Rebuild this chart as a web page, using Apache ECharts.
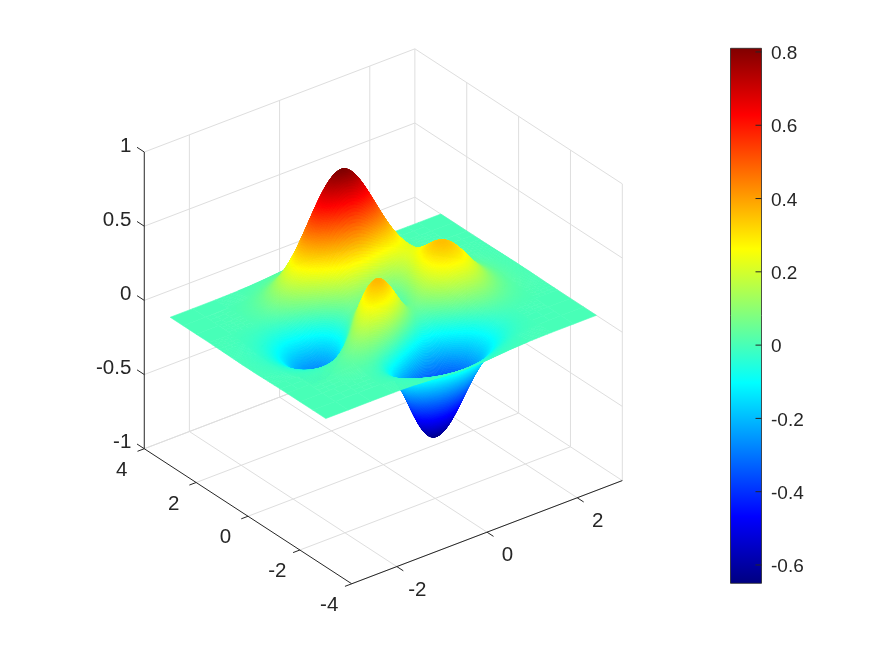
<!DOCTYPE html>
<html>
<head>
<meta charset="utf-8">
<style>html,body{margin:0;padding:0;background:#fff}#c{width:875px;height:656px}</style>
<script src="https://cdn.jsdelivr.net/npm/echarts@6/dist/echarts.min.js"></script>
</head>
<body>
<div id="c"></div>
<script>
// ---- values ----
const xValues = [-3,-2.5,-2,-1.5,-1,-0.5,0,0.5,1,1.5,2,2.5,3];
const yValues = [-3,-2.5,-2,-1.5,-1,-0.5,0,0.5,1,1.5,2,2.5,3];
// one row per y value (from y=-3 up to y=3), one column per x value
const zRows = [
 [0,0.0001,0.0003,0.0004,-0.0029,-0.0137,-0.0244,-0.0222,-0.011,-0.003,-0.0004,0,0],
 [0,0.0003,0.0015,0.0003,-0.0235,-0.0915,-0.1569,-0.1406,-0.0688,-0.0184,-0.0026,-0.0002,0],
 [-0.0001,0.0009,0.0047,0.0045,-0.0592,-0.2639,-0.476,-0.4345,-0.2102,-0.0529,-0.0062,-0.0001,0],
 [-0.0004,0.0005,0.0079,0.0327,0.0148,-0.2187,-0.568,-0.576,-0.2635,-0.0441,0.0043,0.0025,0.0002],
 [-0.0013,-0.0056,-0.013,0.03,0.1856,0.2225,-0.0724,-0.2223,-0.0273,0.0884,0.0499,0.0113,0.0011],
 [-0.0029,-0.02,-0.0798,-0.1213,0.0797,0.3551,0.2,0.039,0.2198,0.256,0.1122,0.0237,0.0025],
 [-0.0038,-0.0301,-0.1332,-0.2774,-0.1652,0.148,0.0981,0.0375,0.2937,0.327,0.1411,0.0297,0.0032],
 [-0.003,-0.0247,-0.1122,-0.2493,-0.1997,0.0389,0.0464,0.0375,0.2376,0.2558,0.1094,0.0229,0.0025],
 [-0.0013,-0.0112,-0.048,-0.0864,0.0229,0.2795,0.3689,0.2935,0.2434,0.1581,0.058,0.0114,0.0012],
 [-0.0003,-0.0019,-0.0012,0.0478,0.2608,0.6196,0.7997,0.625,0.3255,0.1185,0.0293,0.0046,0.0004],
 [0,0.0006,0.008,0.0553,0.2096,0.4556,0.586,0.4568,0.221,0.0677,0.0133,0.0017,0.0001],
 [0,0.0003,0.0032,0.0192,0.0688,0.1468,0.1885,0.1468,0.0699,0.0205,0.0037,0.0004,0],
 [0,0,0.0005,0.0031,0.011,0.0233,0.0299,0.0233,0.011,0.0032,0.0006,0.0001,0]
];
const xTicks = [-2,0,2];
const yTicks = [-4,-2,0,2,4];
const zTicks = [-1,-0.5,0,0.5,1];
const colorbarTicks = [-0.6,-0.4,-0.2,0,0.2,0.4,0.6,0.8];
const colorRange = [-0.65,0.81];
const xRange = [-3,3], yRange = [-4,4], zRange = [-1,1];
const jetStops = [[0,[0,0,128]],[0.125,[0,0,255]],[0.375,[0,255,255]],[0.625,[255,255,0]],[0.875,[255,0,0]],[1,[128,0,0]]];

// ---- styles and view ----
const ink = '#262626', gridInk = '#dedede', fontFamily = '"Liberation Sans", Arial, sans-serif';
const axisFontSize = 20.5, barFontSize = 19;
const view = {o:[383.3,316.3], ex:[45.1,-17.2], ey:[-25.93,-16.88], ez:148.35};
const SUB = 24;
const STRIDES = [24,12,8,6,4,3,2,1];

function project(x,y,z){
  return [view.o[0]+x*view.ex[0]+y*view.ey[0], view.o[1]+x*view.ex[1]+y*view.ey[1]-z*view.ez];
}
function jet(v){
  const t = Math.max(0,Math.min(1,(v-colorRange[0])/(colorRange[1]-colorRange[0])));
  for(let i=1;i<jetStops.length;i++){
    if(t<=jetStops[i][0]){
      const a=jetStops[i-1],b=jetStops[i],f=(t-a[0])/(b[0]-a[0]);
      return 'rgb('+[0,1,2].map(k=>Math.round(a[1][k]+(b[1][k]-a[1][k])*f)).join(',')+')';
    }
  }
  return 'rgb(128,0,0)';
}
// smooth shading of the surface between the read nodes (like shading interp)
function refine(v,n){
  const N=v.length-1,m=new Array(N+1).fill(0),c=new Array(N+1).fill(0),d=new Array(N+1).fill(0);
  for(let i=1;i<N;i++){
    const r=6*(v[i+1]-2*v[i]+v[i-1]),w=4-c[i-1];
    c[i]=1/w; d[i]=(r-d[i-1])/w;
  }
  for(let i=N-1;i>0;i--) m[i]=d[i]-c[i]*m[i+1];
  const out=[];
  for(let i=0;i<N;i++){
    for(let s=0;s<n;s++){
      const b=s/n,a=1-b;
      out.push(a*v[i]+b*v[i+1]+((a*a*a-a)*m[i]+(b*b*b-b)*m[i+1])/6);
    }
  }
  out.push(v[N]);
  return out;
}
const rowsFine = zRows.map(r=>refine(r,SUB));
const colsFine = rowsFine[0].map((_,i)=>refine(rowsFine.map(r=>r[i]),SUB)); // colsFine[ix][iy]
function cellStride(i,j){
  let lo=Infinity,hi=-Infinity;
  for(let a=0;a<=SUB;a+=2) for(let b=0;b<=SUB;b+=2){
    const z=colsFine[i*SUB+a][j*SUB+b]; if(z<lo)lo=z; if(z>hi)hi=z;
  }
  const want=0.08/Math.max(hi-lo,1e-6);
  return STRIDES.find(s=>s<=want)||1;
}

// ---- data tables for the series ----
const cells=[];
for(let j=yValues.length-2;j>=0;j--) for(let i=xValues.length-2;i>=0;i--) cells.push([xValues[i],yValues[j],zRows[j][i],i,j]);

const gridSegs=[];
const zLo=zRange[0],zHi=zRange[1],xLo=xRange[0],xHi=xRange[1],yLo=yRange[0],yHi=yRange[1];
xTicks.forEach(x=>{gridSegs.push([x,yLo,zLo,x,yHi,zLo]);gridSegs.push([x,yHi,zLo,x,yHi,zHi]);});
yTicks.forEach(y=>{gridSegs.push([xLo,y,zLo,xHi,y,zLo]);gridSegs.push([xHi,y,zLo,xHi,y,zHi]);});
zTicks.forEach(z=>{gridSegs.push([xLo,yHi,z,xHi,yHi,z]);gridSegs.push([xHi,yLo,z,xHi,yHi,z]);});

const axisSegs=[[xLo,yLo,zLo,xHi,yLo,zLo],[xLo,yLo,zLo,xLo,yHi,zLo],[xLo,yHi,zLo,xLo,yHi,zHi]];
xTicks.forEach(x=>axisSegs.push([x,yLo,zLo,x,yLo-0.25,zLo]));
yTicks.forEach(y=>axisSegs.push([xLo,y,zLo,xLo-0.15,y,zLo]));
zTicks.forEach(z=>axisSegs.push([xLo,yHi,z,xLo,yHi+0.28,z]));

const labels=[];
xTicks.forEach(x=>labels.push({p:[x,yLo,zLo],t:String(x),dx:20.5,dy:23.5,align:'center'}));
yTicks.forEach(y=>labels.push({p:[xLo,y,zLo],t:String(y),dx:-22.5,dy:21.5,align:'center'}));
zTicks.forEach(z=>labels.push({p:[xLo,yHi,z],t:String(z),dx:-13,dy:-6,align:'right'}));

function segRender(color,width){
  return function(params,api){
    const a=api.coord(project(api.value(0),api.value(1),api.value(2)));
    const b=api.coord(project(api.value(3),api.value(4),api.value(5)));
    return {type:'line',shape:{x1:a[0],y1:a[1],x2:b[0],y2:b[1]},style:{stroke:color,lineWidth:width,fill:null},silent:true};
  };
}

const chart=echarts.init(document.getElementById('c'),null,{renderer:'canvas',width:875,height:656});
chart.setOption({
  animation:false,
  backgroundColor:'#ffffff',
  grid:[
    {left:0,top:0,width:875,height:656},
    {left:730.5,top:48.3,width:31,height:535}
  ],
  xAxis:[
    {type:'value',min:0,max:875,show:false},
    {type:'value',gridIndex:1,min:0,max:1,show:false}
  ],
  yAxis:[
    {type:'value',min:0,max:656,inverse:true,show:false},
    {type:'value',gridIndex:1,min:colorRange[0],max:colorRange[1],show:false}
  ],
  series:[
    {type:'custom',name:'grid',coordinateSystem:'cartesian2d',clip:false,silent:true,z:1,
     data:gridSegs,renderItem:segRender(gridInk,1)},
    {type:'custom',name:'surface',coordinateSystem:'cartesian2d',clip:false,silent:true,z:2,
     progressive:0,data:cells,
     renderItem:function(params,api){
       const i=api.value(3),j=api.value(4),kids=[];
       const dx=(xValues[i+1]-xValues[i])/SUB,dy=(yValues[j+1]-yValues[j])/SUB;
       const st=cellStride(i,j);
       for(let b=SUB-st;b>=0;b-=st){
         for(let a=SUB-st;a>=0;a-=st){
           const ix=i*SUB+a,iy=j*SUB+b,x0=xValues[i]+a*dx,y0=yValues[j]+b*dy,x1=x0+st*dx,y1=y0+st*dy;
           const z00=colsFine[ix][iy],z10=colsFine[ix+st][iy],z01=colsFine[ix][iy+st],z11=colsFine[ix+st][iy+st];
           const col=jet((z00+z10+z01+z11)/4);
           kids.push({type:'polygon',silent:true,
             shape:{points:[
               api.coord(project(x0,y0,z00)),api.coord(project(x1,y0,z10)),
               api.coord(project(x1,y1,z11)),api.coord(project(x0,y1,z01))]},
             style:{fill:col,stroke:col,lineWidth:0.6}});
         }
       }
       return {type:'group',silent:true,children:kids};
     }},
    {type:'custom',name:'axes',coordinateSystem:'cartesian2d',clip:false,silent:true,z:3,
     data:axisSegs,renderItem:segRender(ink,1)},
    {type:'custom',name:'tick labels',coordinateSystem:'cartesian2d',clip:false,silent:true,z:4,
     data:labels.map((l,k)=>[l.p[0],l.p[1],l.p[2],k]),
     renderItem:function(params,api){
       const l=labels[api.value(3)];
       const c=api.coord(project(api.value(0),api.value(1),api.value(2)));
       return {type:'text',silent:true,style:{x:c[0]+l.dx,y:c[1]+l.dy,text:l.t,fill:ink,
         font:axisFontSize+'px '+fontFamily,align:l.align,verticalAlign:'middle'}};
     }},
    {type:'custom',name:'colorbar',coordinateSystem:'cartesian2d',xAxisIndex:1,yAxisIndex:1,clip:false,silent:true,z:2,
     data:[[0,colorRange[1],1,colorRange[0]]],
     renderItem:function(params,api){
       const a=api.coord([api.value(0),api.value(1)]),b=api.coord([api.value(2),api.value(3)]);
       return {type:'rect',silent:true,shape:{x:a[0],y:a[1],width:b[0]-a[0],height:b[1]-a[1]},
         style:{fill:{type:'linear',x:0,y:1,x2:0,y2:0,
           colorStops:jetStops.map(s=>({offset:s[0],color:'rgb('+s[1].join(',')+')'}))},
           stroke:ink,lineWidth:0.8}};
     }},
    {type:'custom',name:'colorbar ticks',coordinateSystem:'cartesian2d',xAxisIndex:1,yAxisIndex:1,clip:false,silent:true,z:3,
     data:colorbarTicks.map(v=>[1,v]),
     renderItem:function(params,api){
       const c=api.coord([api.value(0),api.value(1)]);
       return {type:'group',silent:true,children:[
         {type:'line',silent:true,shape:{x1:c[0]-6,y1:c[1],x2:c[0],y2:c[1]},style:{stroke:ink,lineWidth:1}},
         {type:'text',silent:true,style:{x:c[0]+9.5,y:c[1]+2,text:String(api.value(1)),fill:ink,
           font:barFontSize+'px '+fontFamily,align:'left',verticalAlign:'middle'}}
       ]};
     }}
  ]
});
</script>
</body>
</html>
